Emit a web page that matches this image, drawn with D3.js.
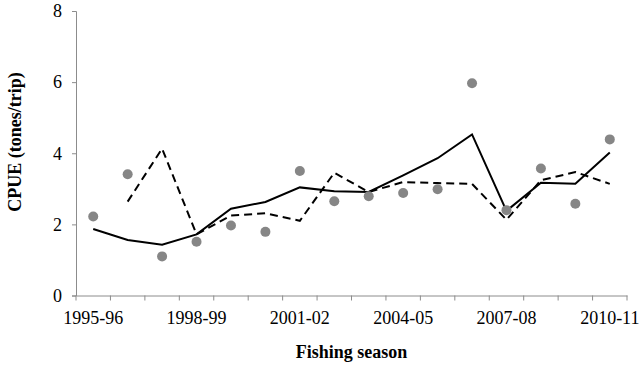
<!DOCTYPE html>
<html>
<head>
<meta charset="utf-8">
<script src="https://cdn.jsdelivr.net/npm/d3@7"></script>
<style>
  body { margin: 0; background: #fff; }
  svg { display: block; font-family: "Liberation Serif", "Times New Roman", serif; }
</style>
</head>
<body>
<div id="chart"></div>
<script>
const seasons = [
  "1995-96", "1996-97", "1997-98", "1998-99", "1999-00", "2000-01", "2001-02", "2002-03",
  "2003-04", "2004-05", "2005-06", "2006-07", "2007-08", "2008-09", "2009-10", "2010-11",
]
const labelledSeasons = ["1995-96", "1998-99", "2001-02", "2004-05", "2007-08", "2010-11"]
const yTicks = [0, 2, 4, 6, 8]

// observed CPUE (grey dots)
const observed = [2.22, 3.41, 1.10, 1.51, 1.97, 1.79, 3.50, 2.65, 2.79, 2.88, 2.99, 5.97, 2.40, 3.57, 2.58, 4.39]
// solid line
const solidSeries = [1.87, 1.56, 1.43, 1.72, 2.44, 2.63, 3.04, 2.93, 2.91, 3.38, 3.86, 4.53, 2.38, 3.17, 3.14, 4.02]
// dashed line, no value for the first season
const dashedSeries = [null, 2.64, 4.13, 1.72, 2.25, 2.31, 2.10, 3.45, 2.91, 3.19, 3.16, 3.14, 2.13, 3.24, 3.47, 3.14]

const width = 640
const height = 367
const margin = { top: 11, right: 13, bottom: 71.5, left: 76 }
const axisColor = "#8c8c8c"
const fontSize = "18px"

const svg = d3.select("#chart")
  .append("svg")
  .attr("width", width)
  .attr("height", height)

const x = d3.scaleBand()
  .domain(seasons)
  .range([margin.left, width - margin.right])
  .padding(0)

const y = d3.scaleLinear()
  .domain([0, 8])
  .range([height - margin.bottom, margin.top])

const cx = (d, i) => x(seasons[i]) + x.bandwidth() / 2

// y axis
const yAxis = svg.append("g")
  .attr("transform", `translate(${margin.left},0)`)
  .call(d3.axisLeft(y).tickValues(yTicks).tickSize(4).tickPadding(10).tickFormat(d3.format("d")))
yAxis.selectAll("path, line").attr("stroke", axisColor)
yAxis.selectAll("text")
  .attr("fill", "#000")
  .style("font-size", fontSize)
  .style("font-family", "Liberation Serif, serif")

// x axis: labels on every third season, ticks between categories
const xAxis = svg.append("g")
  .attr("transform", `translate(0,${y(0)})`)
  .call(d3.axisBottom(x).tickValues(labelledSeasons).tickSize(0).tickPadding(16))
xAxis.select(".domain").attr("stroke", axisColor)
xAxis.selectAll("text")
  .attr("fill", "#000")
  .style("font-size", fontSize)
  .style("font-family", "Liberation Serif, serif")

const boundaries = seasons.map((s) => x(s)).concat([x.range()[1]])
xAxis.selectAll(".boundary")
  .data(boundaries)
  .join("line")
  .attr("class", "boundary")
  .attr("x1", (d) => d)
  .attr("x2", (d) => d)
  .attr("y1", 0)
  .attr("y2", 5)
  .attr("stroke", axisColor)

// axis titles
svg.append("text")
  .attr("x", (margin.left + width - margin.right) / 2)
  .attr("y", 358)
  .attr("text-anchor", "middle")
  .style("font-size", fontSize)
  .style("font-weight", "bold")
  .text("Fishing season")

svg.append("text")
  .attr("transform", "translate(21,142) rotate(-90)")
  .attr("text-anchor", "middle")
  .style("font-size", fontSize)
  .style("font-weight", "bold")
  .text("CPUE (tones/trip)")

const line = d3.line()
  .defined((d) => d !== null)
  .x(cx)
  .y((d) => y(d))

svg.append("path")
  .datum(dashedSeries)
  .attr("fill", "none")
  .attr("stroke", "#000")
  .attr("stroke-width", 2)
  .attr("stroke-dasharray", "8,5")
  .attr("d", line)

svg.append("path")
  .datum(solidSeries)
  .attr("fill", "none")
  .attr("stroke", "#000")
  .attr("stroke-width", 2)
  .attr("d", line)

svg.append("g")
  .selectAll("circle")
  .data(observed)
  .join("circle")
  .attr("cx", cx)
  .attr("cy", (d) => y(d))
  .attr("r", 5)
  .attr("fill", "#868686")
</script>
</body>
</html>
